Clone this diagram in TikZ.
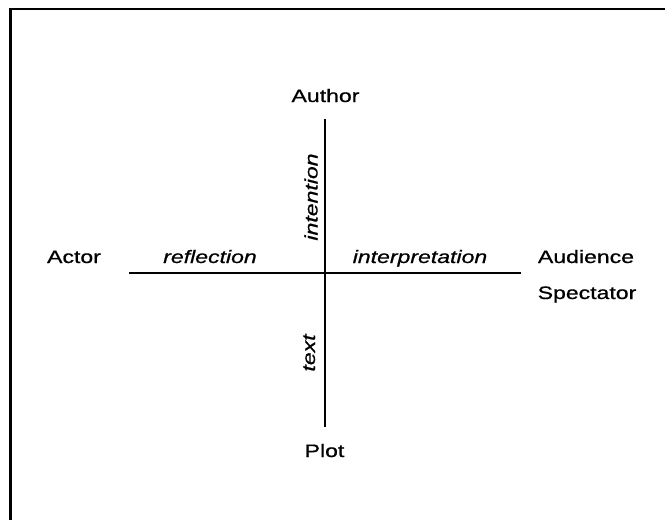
\documentclass[tikz,border=0pt]{standalone}
\usepackage{fontspec}
\setmainfont{Liberation Sans}[FakeStretch=1.28,FakeBold=0.8]
\begin{document}
\begin{tikzpicture}[x=1pt,y=-1pt,
  lbl/.style={inner sep=0pt,anchor=base,font=\fontsize{18}{20}\selectfont},
  ilbl/.style={lbl,font=\fontsize{18}{20}\selectfont\itshape},
  axis/.style={line width=2pt},
  frameline/.style={line width=2.6pt}]
\useasboundingbox (0,0) rectangle (665,520);
% frame (only left and top edges visible)
\coordinate (fbl) at (10.5,520);
\coordinate (ftl) at (10.5,9);
\coordinate (ftr) at (665,9);
\draw[frameline] (fbl) -- (ftl) -- (ftr);
% axes
\coordinate (vtop) at (325,119);
\coordinate (vbot) at (325,427);
\coordinate (hleft) at (129,272.5);
\coordinate (hright) at (521,272.5);
\draw[axis] (vtop) -- (vbot);
\draw[axis] (hleft) -- (hright);
% labels
\node[lbl] (author) at (325.5,102) {Author};
\node[lbl] (plot) at (324.5,457) {Plot};
\node[lbl] (actor) at (74,263) {Actor};
\node[lbl] (audience) at (586,263) {Audience};
\node[lbl] (spectator) at (587,299) {Spectator};
\node[ilbl] (reflection) at (210,263) {reflection};
\node[ilbl] (interp) at (420,263) {interpretation};
\node[ilbl,rotate=90] (intention) at (317.5,197) {intention};
\node[ilbl,rotate=90] (textl) at (315,353) {text};
\end{tikzpicture}
\end{document}
